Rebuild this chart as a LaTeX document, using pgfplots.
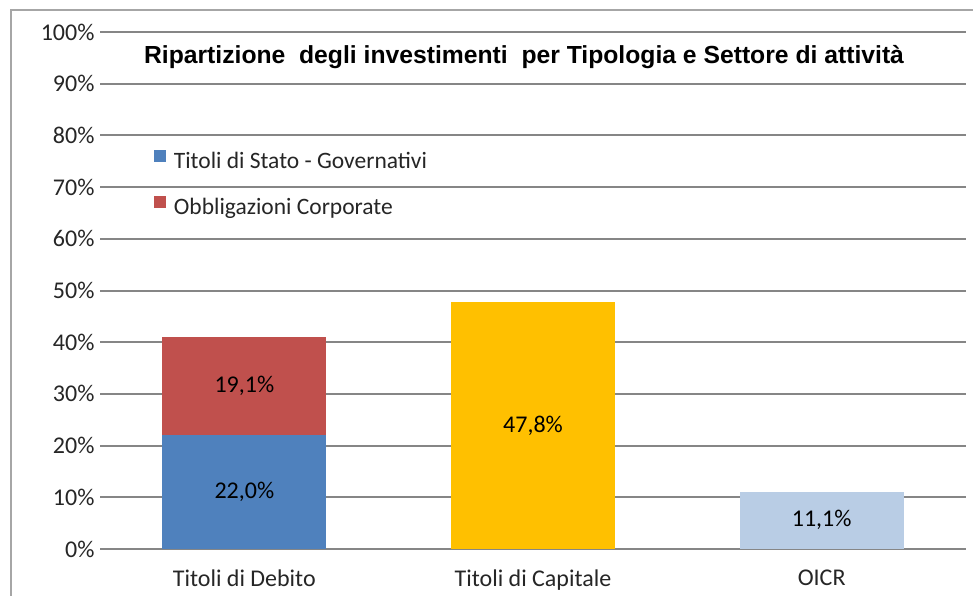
\documentclass[border=0pt]{standalone}
\usepackage{pgfplots}
\pgfplotsset{compat=1.18}
\usepackage{fontspec}
\setmainfont{Carlito}
\newfontfamily\titlefont{Liberation Sans}
\definecolor{cblue}{HTML}{4F81BD}
\definecolor{cred}{HTML}{C0504D}
\definecolor{cyellow}{HTML}{FFC000}
\definecolor{clight}{HTML}{B9CDE5}
\definecolor{gridgray}{HTML}{868686}
\definecolor{framegray}{HTML}{A6A6A6}
\definecolor{textdark}{HTML}{262626}
\begin{document}
\begin{tikzpicture}
\path[use as bounding box] (0,0) rectangle (973pt,595pt);
\fill[white] (0,0) rectangle (973pt,595pt);
\draw[framegray, line width=1.6pt] (11pt,-2pt) -- (11pt,585pt) -- (975pt,585pt);
\begin{axis}[
  at={(100pt,46pt)}, anchor=south west,
  scale only axis, width=866pt, height=517pt,
  ybar stacked, bar width=164pt,
  xmin=-0.5, xmax=2.5, ymin=0, ymax=100,
  xtick={0,1,2},
  xticklabels={Titoli di Debito, Titoli di Capitale, OICR},
  ytick={0,10,...,100},
  /pgf/number format/assume math mode=true,
  yticklabel={\pgfmathprintnumber{\tick}\%},
  axis line style={draw=none},
  major tick length=0pt,
  ymajorgrids, grid style={gridgray, line width=2pt},
  tick label style={font=\fontsize{24}{28}\selectfont, text=textdark},
  xticklabel style={yshift=-17pt},
  yticklabel style={xshift=-2pt},
  legend style={draw=none, fill=none, at={(0.062,0.772)}, anchor=north west,
    font=\fontsize{23.5}{28}\selectfont, text=textdark, row sep=24pt,
    column sep=6pt, inner sep=0pt},
  legend cell align=left,
  legend image code/.code={\fill[#1] (0pt,-1pt) rectangle (12pt,11pt);},
  point meta=explicit symbolic,
  nodes near coords,
  nodes near coords style={font=\fontsize{24}{28}\selectfont, text=black},
]
\addplot[fill=cblue, draw=none] table[meta=lab, row sep=\\] {
  x y lab \\ 0 22.0 {22,0\%} \\ 1 0 {} \\ 2 0 {} \\ };
\addlegendentry{Titoli di Stato - Governativi}
\addplot[fill=cred, draw=none] table[meta=lab, row sep=\\] {
  x y lab \\ 0 19.1 {19,1\%} \\ 1 0 {} \\ 2 0 {} \\ };
\addlegendentry{Obbligazioni Corporate}
\addplot[fill=cyellow, draw=none, forget plot] table[meta=lab, row sep=\\] {
  x y lab \\ 0 0 {} \\ 1 47.8 {47,8\%} \\ 2 0 {} \\ };
\addplot[fill=clight, draw=none, forget plot] table[meta=lab, row sep=\\] {
  x y lab \\ 0 0 {} \\ 1 0 {} \\ 2 11.1 {11,1\%} \\ };
\end{axis}
\node[font=\titlefont\bfseries\fontsize{24.7}{28}\selectfont, text=black] at (524pt,538pt)
  {Ripartizione\ \ degli investimenti\ \ per Tipologia e Settore di attività};
\end{tikzpicture}
\end{document}
